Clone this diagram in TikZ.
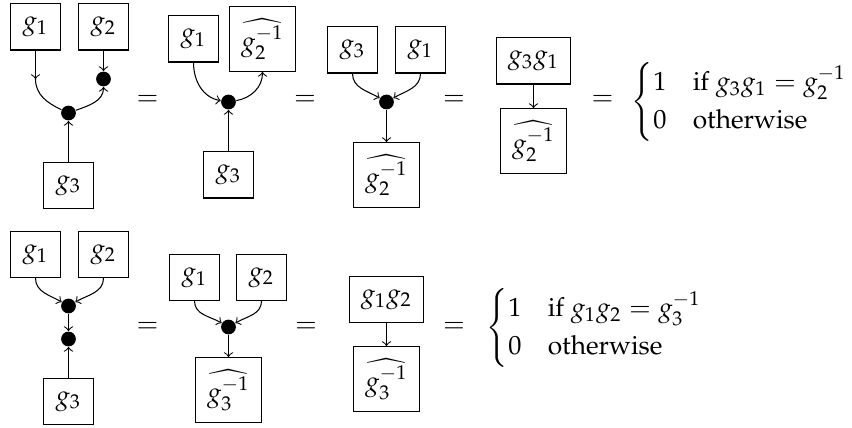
\documentclass[tikz,border=0pt]{standalone}
\usepackage[T1]{fontenc}
\usepackage{amsmath}
\usepackage{amssymb}
\usepackage{mathpazo}
\usepackage{tikz}

\tikzset{
  tens/.style={draw, inner sep=4.5pt, minimum size=17.5pt},
  vert/.style={circle, fill=black, inner sep=0pt, minimum size=5.6pt},
  eqs/.style={inner sep=0pt},
}

\begin{document}
\begin{tikzpicture}[x=0.38pt, y=0.38pt, >=to]
  \useasboundingbox (0,0) rectangle (852,-428);
  % top row: g1 g2 g3 with two vertices
  \node[tens] (a1) at (35.5,-27) {$g_1$};
  \node[tens] (a2) at (103.5,-27) {$g_2$};
  \node[tens] (a3) at (68.5,-185.5) {$g_3$};
  \node[vert] (ad1) at (68.5,-113) {};
  \node[vert] (ad2) at (103.5,-79) {};
  \coordinate (ak) at (35.5,-79);
  \draw[->] (a1) -- (ak);
  \draw (ak) to[out=-90, in=155] (ad1);
  \draw[->] (ad1) to[out=20, in=-90] (ad2);
  \draw[->] (a2) -- (ad2);
  \draw[->] (a3) -- (ad1);
  \node[eqs] (e1) at (147.5,-100) {$=$};

  \node[tens] (b1) at (193.5,-39) {$g_1$};
  \node[tens] (b2) at (262.5,-39) {$\widehat{g_2^{-1}}$};
  \node[tens] (b3) at (228.5,-175) {$g_3$};
  \node[vert] (bd) at (228.5,-102) {};
  \draw[->] (b1) to[out=-90, in=170] (bd);
  \draw[->] (bd) to[out=10, in=-90] (b2);
  \draw[->] (b3) -- (bd);
  \node[eqs] (e2) at (305,-100) {$=$};

  \node[tens] (c1) at (352.5,-50) {$g_3$};
  \node[tens] (c2) at (420.5,-50) {$g_1$};
  \node[tens] (c3) at (386.5,-175) {$\widehat{g_2^{-1}}$};
  \node[vert] (cd) at (386.5,-102) {};
  \draw[->] (c1) to[out=-90, in=150] (cd);
  \draw[->] (c2) to[out=-90, in=30] (cd);
  \draw[->] (cd) -- (c3);
  \node[eqs] (e3) at (454,-100) {$=$};

  \node[tens] (d1) at (533.5,-61) {$g_3g_1$};
  \node[tens] (d2) at (533.5,-141) {$\widehat{g_2^{-1}}$};
  \draw[->] (d1) -- (d2);
  \node[eqs] (e4) at (602.5,-100) {$=$};
  \node[eqs, anchor=west] (cs1) at (631,-102)
    {$\begin{cases} 1 & \text{if } g_3g_1 = g_2^{-1}\\ 0 & \text{otherwise}\end{cases}$};

  % bottom row: two vertices in a line
  \node[tens] (p1) at (35.5,-254.5) {$g_1$};
  \node[tens] (p2) at (103.5,-254.5) {$g_2$};
  \node[tens] (p3) at (68.5,-401.5) {$g_3$};
  \node[vert] (pd1) at (68.5,-306) {};
  \node[vert] (pd2) at (68.5,-339) {};
  \draw[->] (p1) to[out=-90, in=150] (pd1);
  \draw[->] (p2) to[out=-90, in=30] (pd1);
  \draw[->] (pd1) -- (pd2);
  \draw[->] (p3) -- (pd2);
  \node[eqs] (f1) at (147.5,-327) {$=$};

  \node[tens] (q1) at (194.5,-277.5) {$g_1$};
  \node[tens] (q2) at (261.5,-277.5) {$g_2$};
  \node[tens] (q3) at (228.5,-390) {$\widehat{g_3^{-1}}$};
  \node[vert] (qd) at (228.5,-327) {};
  \draw[->] (q1) to[out=-90, in=150] (qd);
  \draw[->] (q2) to[out=-90, in=30] (qd);
  \draw[->] (qd) -- (q3);
  \node[eqs] (f2) at (306,-327) {$=$};

  \node[tens] (r1) at (386.5,-299.5) {$g_1g_2$};
  \node[tens] (r2) at (386.5,-379) {$\widehat{g_3^{-1}}$};
  \draw[->] (r1) -- (r2);
  \node[eqs] (f3) at (454,-327) {$=$};
  \node[eqs, anchor=west] (cs2) at (486,-328)
    {$\begin{cases} 1 & \text{if } g_1g_2 = g_3^{-1}\\ 0 & \text{otherwise}\end{cases}$};
\end{tikzpicture}
\end{document}
